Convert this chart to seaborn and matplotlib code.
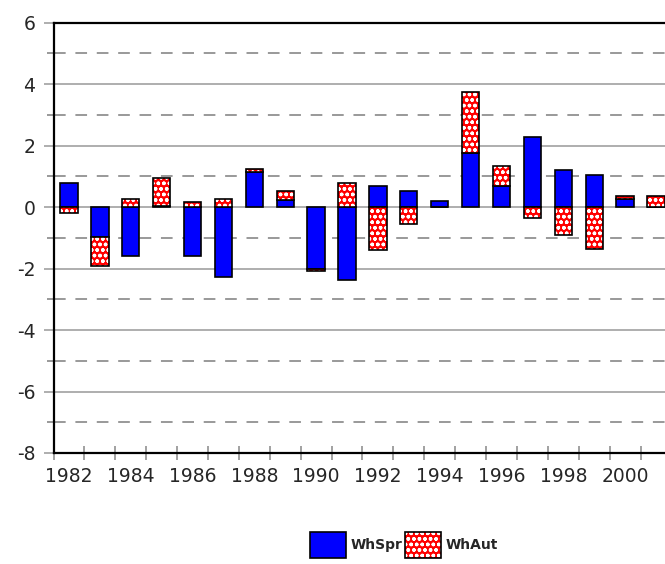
import numpy as np
import pandas as pd
import seaborn as sns
import matplotlib
matplotlib.use("Agg")
import matplotlib.pyplot as plt
from matplotlib.patches import Patch
from matplotlib.ticker import MultipleLocator, FixedLocator

years = [str(y) for y in range(1982, 2002)]
wh_spr = [0.78, -0.96, -1.58, 0.03, -1.58, -2.26, 1.15, 0.24, -2.00, -2.36,
          0.70, 0.53, 0.19, 1.76, 0.70, 2.27, 1.22, 1.04, 0.25, 0.00]
wh_aut = [-0.20, -0.97, 0.27, 0.93, 0.18, 0.26, 0.08, 0.30, -0.09, 0.78,
          -1.41, -0.54, 0.00, 1.98, 0.63, -0.36, -0.90, -1.35, 0.10, 0.36]

spr = np.array(wh_spr)
aut = np.array(wh_aut)
# autumn part sits on top of spring part when both point the same way
aut_bottom = np.where(np.sign(aut) == np.sign(spr), spr, 0.0)

df = pd.DataFrame({"year": years, "spr": spr, "aut": aut})

sns.set_style("white")
plt.rcParams["font.family"] = ["DejaVu Sans"]
plt.rcParams["axes.unicode_minus"] = False

fig = plt.figure(figsize=(6.65, 5.64), dpi=100)
ax = fig.add_axes([53.5 / 665, 1 - 453 / 564, 1 - 53.5 / 665, (453 - 22.7) / 564])

bw = 0.56
hatch = "ooo"
sns.barplot(data=df, x="year", y="spr", color="#0000ff", edgecolor="black",
            linewidth=1.2, width=bw, errorbar=None, saturation=1, ax=ax, zorder=3)
sns.barplot(data=df, x="year", y="aut", bottom=aut_bottom, color="#ff0000",
            edgecolor="white", hatch=hatch, linewidth=0, width=bw,
            errorbar=None, saturation=1, ax=ax, zorder=3)
sns.barplot(data=df, x="year", y="aut", bottom=aut_bottom, color="black",
            fill=False, linewidth=1.2, width=bw, errorbar=None, ax=ax, zorder=4)

ax.set_xlim(-0.5, 19.29)
ax.set_ylim(-8, 6)
ax.set_xlabel("")
ax.set_ylabel("")

# y axis: labelled ticks every 2, dashed lines in between
ax.yaxis.set_major_locator(MultipleLocator(2))
ax.yaxis.set_minor_locator(MultipleLocator(1))
ax.grid(False)
for v in range(-7, 6):
    if v % 2 == 0:
        ax.axhline(v, color="#999999", lw=1.1, zorder=1)
    else:
        ax.axhline(v, color="#999999", lw=1.4, ls=(0, (6, 5)), zorder=1)
ax.tick_params(axis="y", which="major", length=7, width=1.1, color="#999999",
               pad=6, labelsize=13.5, left=True)
ax.tick_params(axis="y", which="minor", length=5, width=1.4, color="#999999", left=True)

# x axis: labels under every other year, ticks at the bin edges
ax.xaxis.set_major_locator(FixedLocator(list(range(0, 20, 2))))
ax.set_xticklabels(years[::2])
ax.xaxis.set_minor_locator(FixedLocator([i - 0.5 for i in range(21)]))
ax.tick_params(axis="x", which="major", length=0, pad=10, labelsize=13.5, bottom=True)
ax.tick_params(axis="x", which="minor", length=10, width=1.1, color="#888888",
               direction="inout", bottom=True)

for side in ["left", "bottom", "top"]:
    ax.spines[side].set_visible(True)
    ax.spines[side].set_color("black")
    ax.spines[side].set_linewidth(1.6)
ax.spines["right"].set_visible(False)

spr_handle = Patch(facecolor="#0000ff", edgecolor="black", linewidth=1.2)
aut_handle = (Patch(facecolor="#ff0000", edgecolor="white", hatch=hatch, linewidth=0),
              Patch(fill=False, edgecolor="black", linewidth=1.2))
leg = fig.legend([spr_handle, aut_handle], ["WhSpr", "WhAut"], loc="center",
                 bbox_to_anchor=(404 / 665, 1 - 545 / 564),
                 ncol=2, frameon=False, handlelength=2.6, handleheight=2.5,
                 handletextpad=0.3, columnspacing=0.2,
                 prop={"size": 10, "weight": "bold"})

fig.savefig("out.png", dpi=100)
